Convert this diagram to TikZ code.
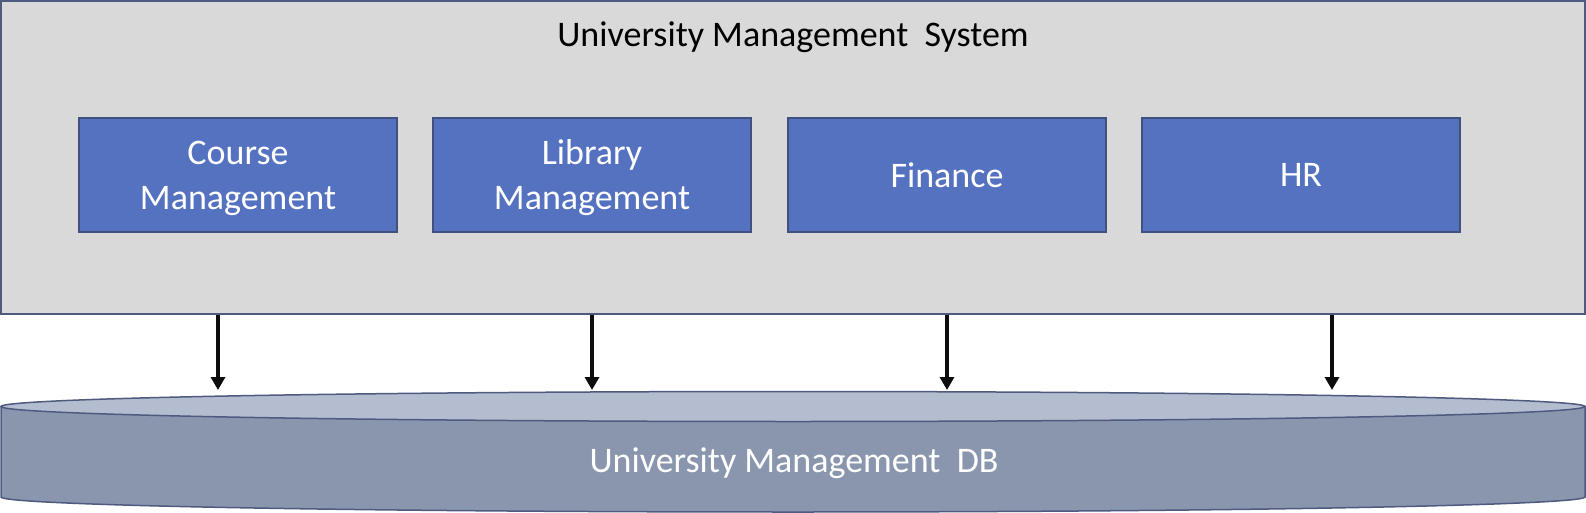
\documentclass[tikz,border=0pt]{standalone}
\usepackage{fontspec}
\setmainfont{Carlito}
\usepackage{tikz}
\usetikzlibrary{arrows.meta, positioning}

\definecolor{sysgray}{HTML}{D9D9D9}
\definecolor{sysline}{HTML}{4E5A80}
\definecolor{modblue}{HTML}{5572C0}
\definecolor{modline}{HTML}{41507E}
\definecolor{dbtop}{HTML}{B4BDD0}
\definecolor{dbbody}{HTML}{8A96AE}
\definecolor{arrowblk}{HTML}{0D0D0D}

\begin{document}
\begin{tikzpicture}[x=1pt,y=-1pt,>={Triangle[width=14pt,length=13pt]},
  sys box/.style={rectangle,draw=sysline,fill=sysgray,line width=1.5pt,
  minimum width=1584pt,minimum height=313pt,inner sep=0pt},
  mod node/.style={rectangle,draw=modline,fill=modblue,line width=1.5pt,
  minimum width=318pt,minimum height=114pt,inner sep=0pt,align=center,
  text=white,text depth=0pt,font=\fontsize{36}{45}\selectfont},
  title/.style={font=\fontsize{36}{45}\selectfont,anchor=base,inner sep=0pt},
  db text/.style={text=white,font=\fontsize{36}{45}\selectfont,anchor=base,inner sep=0pt},
  db line/.style={draw=sysline,line width=1.5pt},
  conn/.style={->,draw=arrowblk,line width=3.5pt}]
  \useasboundingbox (0,0) rectangle (1586,513);

  \node[sys box] (sys) at (793,157.5) {};
  \node[title] (ttl) at (793,47) {University Management\ \ System};

  \node[mod node] (course) at (238,175) {Course\\Management};
  \node[mod node] (library) at (592,175) {Library\\Management};
  \node[mod node] (finance) at (947,175) {Finance};
  \node[mod node] (hr) at (1301,175) {HR};

  % database cylinder
  \path[db line,fill=dbbody] (1,406.5) -- (1,497)
    arc[start angle=180,end angle=0,x radius=792,y radius=15]
    -- (1585,406.5) -- cycle;
  \path[db line,fill=dbtop] (793,406.5) ellipse[x radius=792,y radius=15];
  \node[db text] (db) at (794,472) {University Management\ \ DB};

  \coordinate (d1) at (218,390);
  \coordinate (d2) at (592,390);
  \coordinate (d3) at (947,390);
  \coordinate (d4) at (1332,390);

  \path
     (sys.south -| d1) edge[conn] (d1)
     (sys.south -| d2) edge[conn] (d2)
     (sys.south -| d3) edge[conn] (d3)
     (sys.south -| d4) edge[conn] (d4);
\end{tikzpicture}
\end{document}
